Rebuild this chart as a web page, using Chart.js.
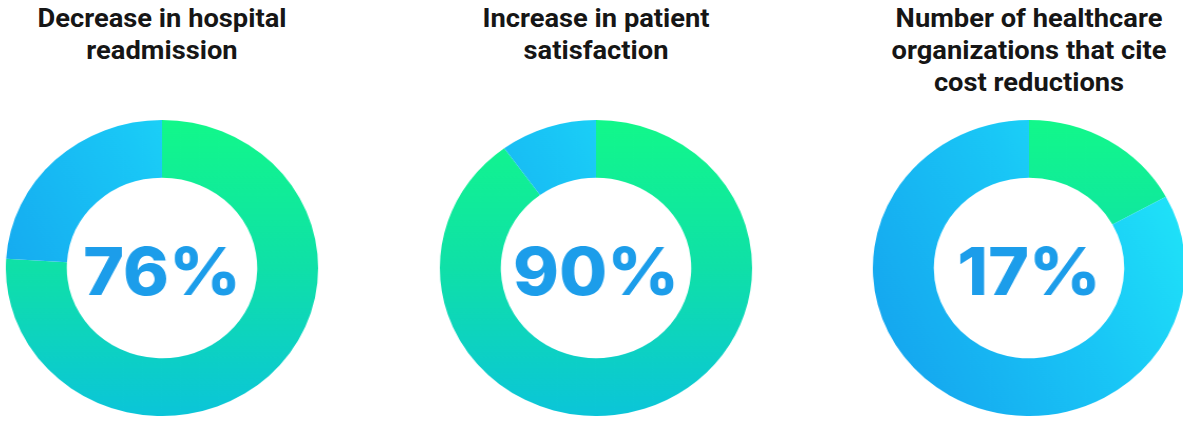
<!DOCTYPE html>
<html>
<head>
<meta charset="utf-8">
<script src="https://cdn.jsdelivr.net/npm/chart.js@4/dist/chart.umd.min.js"></script>
<style>
  html, body { margin: 0; padding: 0; background: #ffffff; }
  body { width: 1183px; height: 423px; position: relative; overflow: hidden; }
  .title {
    position: absolute; top: 2px; width: 400px;
    font-family: Roboto, "Liberation Sans", sans-serif; font-weight: 700;
    font-size: 26px; line-height: 32px; color: #161616; text-align: center;
    transform: scaleX(1.05); transform-origin: 50% 0;
  }
  .wrap { position: absolute; top: 120px; width: 296px; height: 296px; transform: scaleX(1.055); transform-origin: 50% 50%; }
  .wrap canvas { display: block; }
</style>
</head>
<body>
<div id="t0" class="title"></div>
<div id="t1" class="title"></div>
<div id="t2" class="title"></div>
<div id="w0" class="wrap"><canvas id="c0" width="296" height="296"></canvas></div>
<div id="w1" class="wrap"><canvas id="c1" width="296" height="296"></canvas></div>
<div id="w2" class="wrap"><canvas id="c2" width="296" height="296"></canvas></div>
<script>
// ---- data ----
const titles = [
  ["Decrease in hospital", "readmission"],
  ["Increase in patient", "satisfaction"],
  ["Number of healthcare", "organizations that cite", "cost reductions"]
];
const categories = ["Share", "Rest"];
const shareValues = [76, 90, 17];
const restValues = [24, 10, 83];
const centerLabels = ["76%", "90%", "17%"];

// ---- layout ----
const centersX = [162, 596, 1029];
const size = 296;

const centerTextPlugin = {
  id: 'centerText',
  afterDraw(chart) {
    const { ctx } = chart;
    const meta = chart.getDatasetMeta(0);
    const arc = meta.data[0];
    if (!arc) return;
    ctx.save();
    ctx.font = '800 66px Inter, "Open Sans", sans-serif';
    ctx.fillStyle = '#1c9dea';
    ctx.textAlign = 'center';
    ctx.textBaseline = 'alphabetic';
    ctx.fillText(chart.options.plugins.centerText.label, arc.x, arc.y + 27);
    ctx.restore();
  }
};

function greenGrad(ctx, area) {
  const g = ctx.createLinearGradient(0, area.top, 0, area.bottom);
  g.addColorStop(0, '#12f88a');
  g.addColorStop(0.5, '#0fe0a8');
  g.addColorStop(1, '#0bc5d9');
  return g;
}
function blueGrad(ctx, area) {
  const g = ctx.createLinearGradient(area.left, area.top + area.height * 0.7, area.right, area.top + area.height * 0.2);
  g.addColorStop(0, '#15a6ef');
  g.addColorStop(0.55, '#19c6f6');
  g.addColorStop(1, '#20e6f9');
  return g;
}

for (let i = 0; i < 3; i++) {
  const t = document.getElementById('t' + i);
  t.innerHTML = titles[i].join('<br>');
  t.style.left = (centersX[i] - 200) + 'px';
  document.getElementById('w' + i).style.left = (centersX[i] - size / 2) + 'px';

  new Chart(document.getElementById('c' + i), {
    type: 'doughnut',
    data: {
      labels: categories,
      datasets: [{
        data: [shareValues[i], restValues[i]],
        backgroundColor(context) {
          const chart = context.chart;
          const area = chart.chartArea;
          if (!area) return context.dataIndex === 0 ? '#12e89a' : '#18b8f2';
          return context.dataIndex === 0 ? greenGrad(chart.ctx, area) : blueGrad(chart.ctx, area);
        },
        borderWidth: 0,
        hoverOffset: 0
      }]
    },
    options: {
      responsive: false,
      animation: false,
      cutout: '61%',
      layout: { padding: 0 },
      plugins: {
        legend: { display: false },
        tooltip: { enabled: false },
        title: { display: false },
        centerText: { label: centerLabels[i] }
      }
    },
    plugins: [centerTextPlugin]
  });
}
</script>
</body>
</html>
